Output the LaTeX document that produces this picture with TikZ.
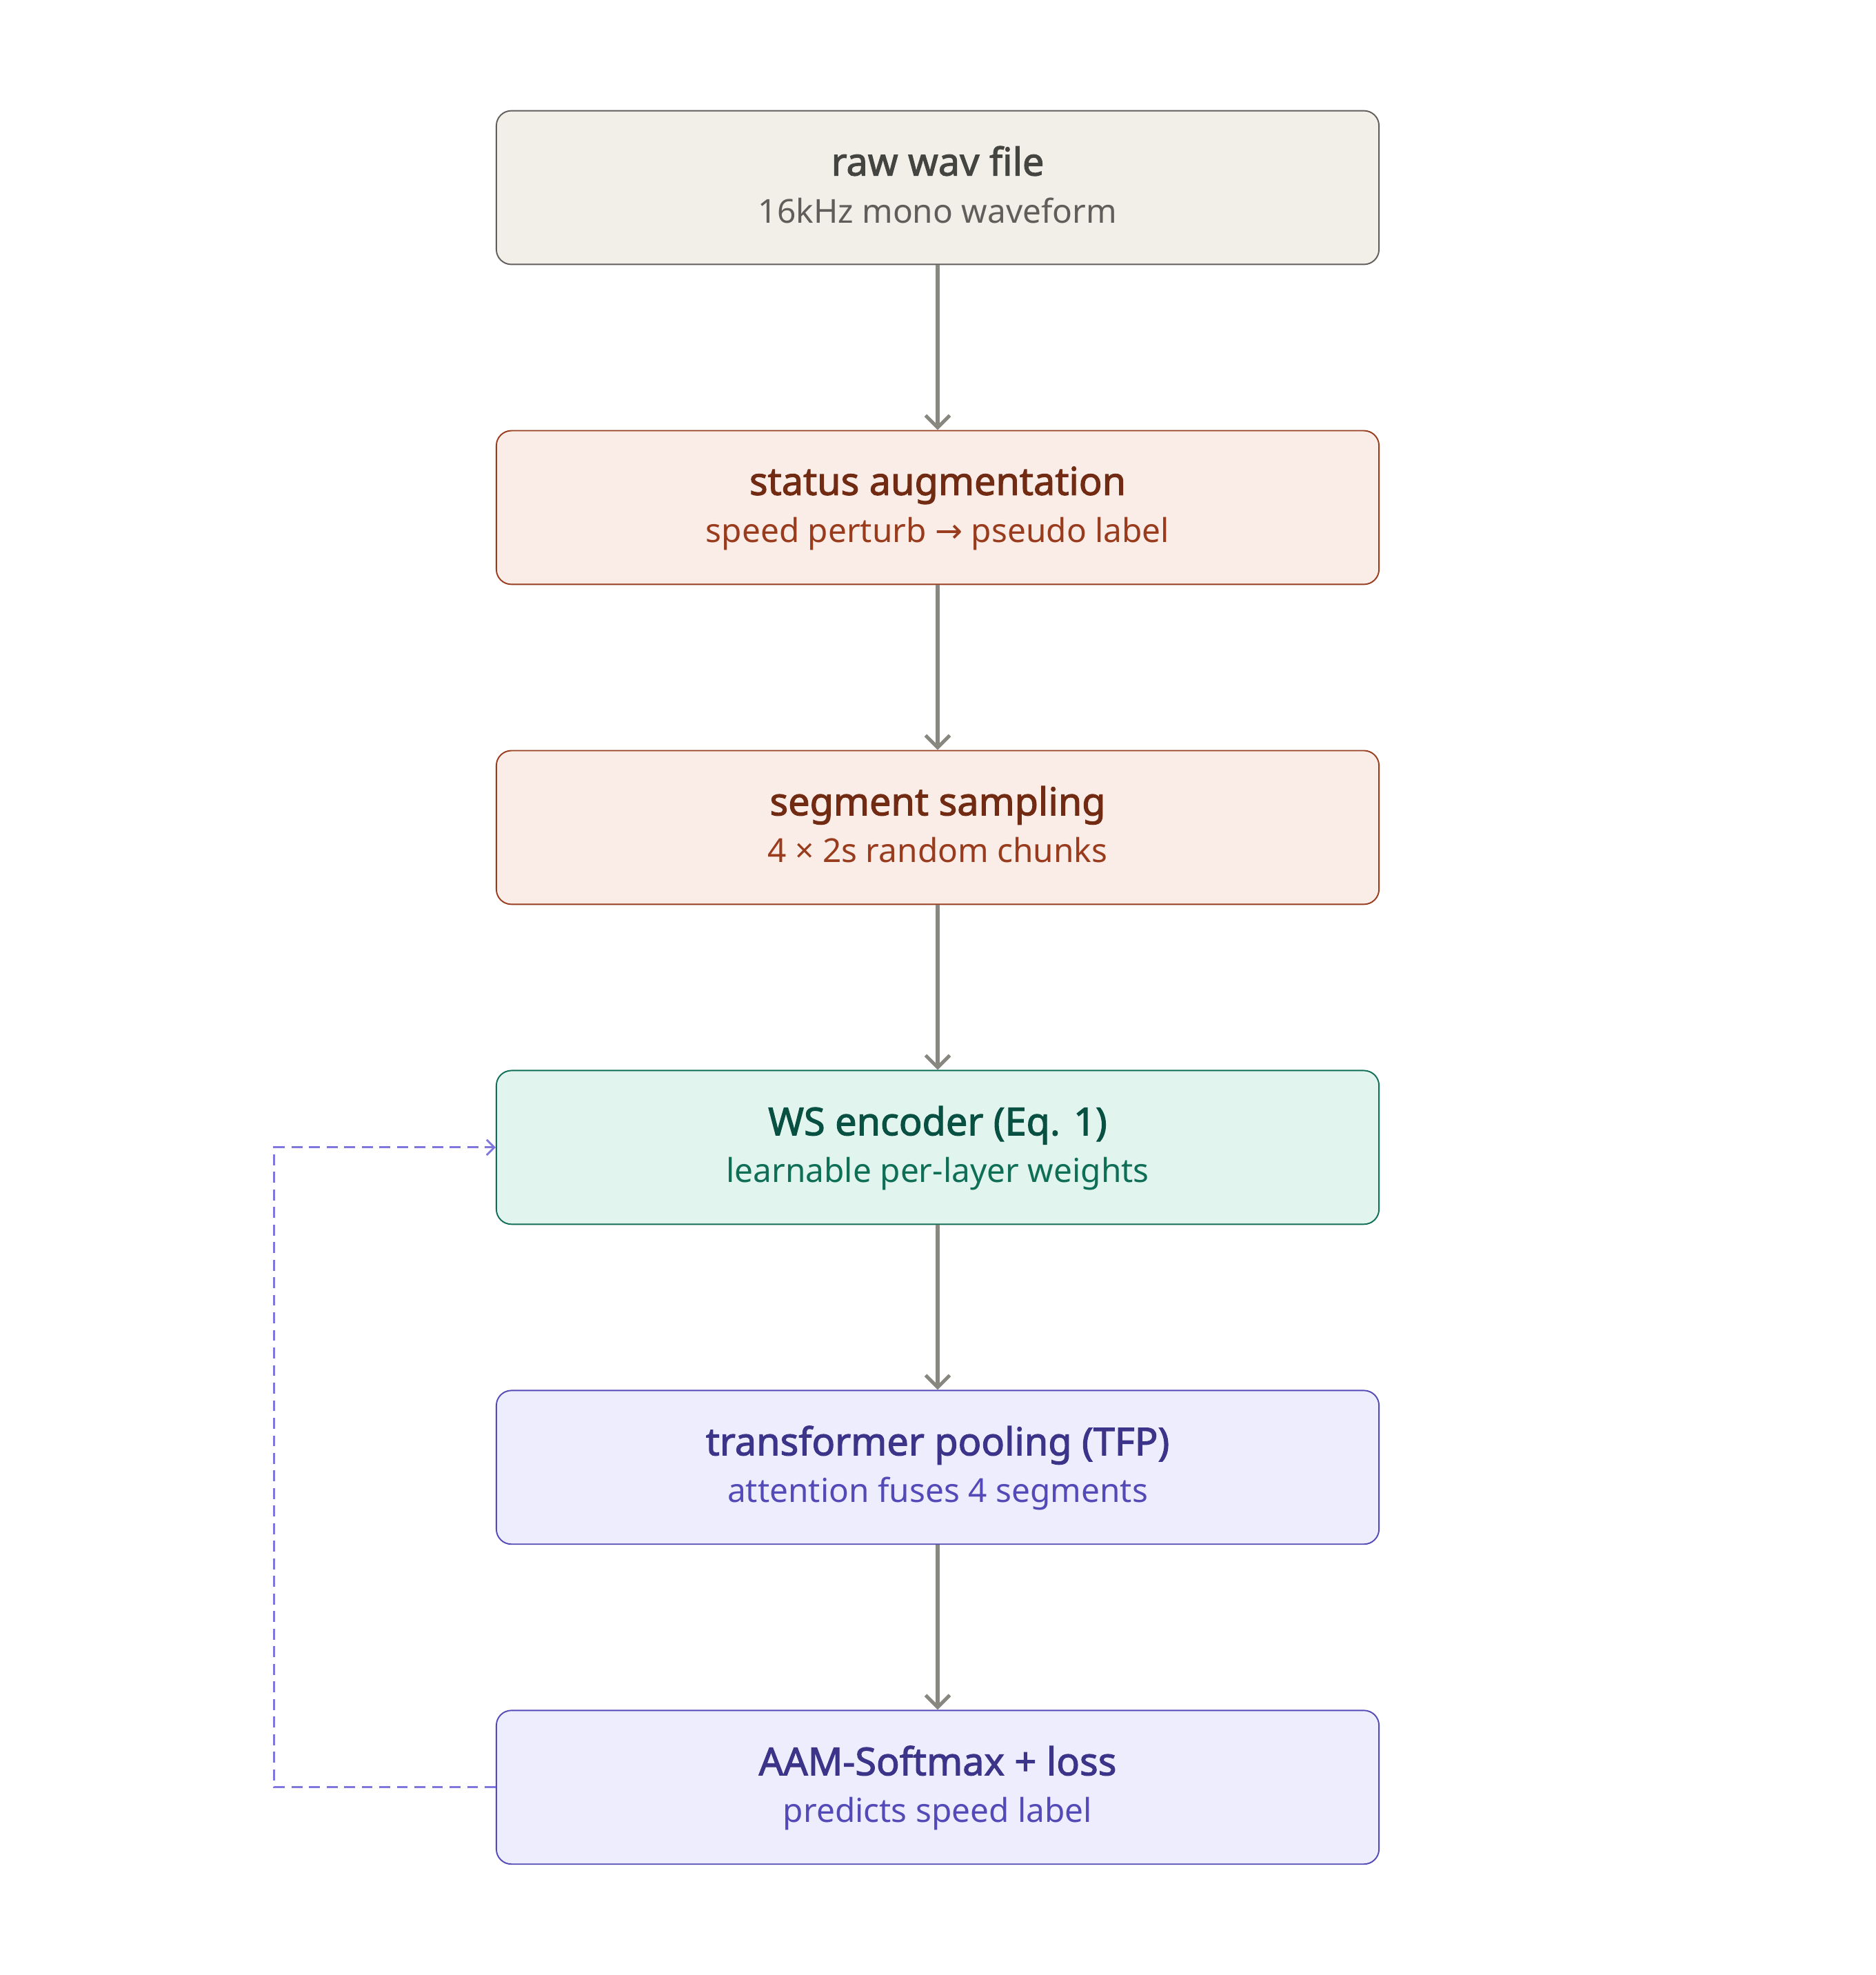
\documentclass[tikz,border=0pt]{standalone}
\usepackage{fontspec}
\setmainfont{Noto Sans}
\IfFontExistsTF{Noto Sans SemiBold}
    {\newfontfamily\titlefont{Noto Sans SemiBold}}
    {\IfFontExistsTF{Noto Sans Bold}
        {\newfontfamily\titlefont{Noto Sans Bold}}
        {\newfontfamily\titlefont{Noto Sans}[FakeBold=2]}}
\newfontfamily\arrowfont{DejaVu Sans}
\usetikzlibrary{positioning,arrows.meta}

\definecolor{rawfill}{HTML}{F1EFE8}
\definecolor{rawline}{HTML}{5F5E5A}
\definecolor{rawtitle}{HTML}{444441}
\definecolor{augfill}{HTML}{FAECE7}
\definecolor{augline}{HTML}{993C1D}
\definecolor{augtitle}{HTML}{712B13}
\definecolor{encfill}{HTML}{E1F5EE}
\definecolor{encline}{HTML}{0F6E56}
\definecolor{enctitle}{HTML}{085041}
\definecolor{poolfill}{HTML}{EEEDFE}
\definecolor{poolline}{HTML}{534AB7}
\definecolor{pooltitle}{HTML}{3C3489}
\definecolor{arrowgray}{HTML}{888780}
\definecolor{loopline}{HTML}{7F77DD}

% title line + sub line inside one box
\newcommand{\stagetext}[4]{{\color{#1}\titlefont\fontsize{17.5}{20}\selectfont #3}\\[1.5pt]{\color{#2}#4}}

\begin{document}
\begin{tikzpicture}[
    stage/.style={draw, rounded corners=0.24cm, minimum width=14.12cm,
        minimum height=2.458cm, align=center, line width=0.6pt,
        font=\fontsize{15}{20}\selectfont, text depth=0.1cm},
    rawbox/.style={stage, draw=rawline, fill=rawfill},
    augbox/.style={stage, draw=augline, fill=augfill},
    encbox/.style={stage, draw=encline, fill=encfill},
    poolbox/.style={stage, draw=poolline, fill=poolfill},
    flow/.style={->, draw=arrowgray, line width=1.6pt,
        >={Straight Barb[length=5.5pt,width=11pt]}},
    feedback/.style={->, draw=loopline, line width=0.9pt,
        dash pattern=on 5pt off 3pt,
        >={Straight Barb[length=3.5pt,width=7pt]}},
    node distance=2.638cm
]
    \useasboundingbox (0,0) rectangle (30,-31.588);

    % --- pipeline boxes ---
    \node[rawbox] (raw) at (15.0,-3.0)
        {\stagetext{rawtitle}{rawline}{raw wav file}{16kHz mono waveform}};
    \node[augbox, below=of raw] (aug)
        {\stagetext{augtitle}{augline}{status augmentation}{speed perturb {\arrowfont →} pseudo label}};
    \node[augbox, below=of aug] (seg)
        {\stagetext{augtitle}{augline}{segment sampling}{4 × 2s random chunks}};
    \node[encbox, below=of seg] (ws)
        {\stagetext{enctitle}{encline}{WS encoder (Eq. 1)}{learnable per-layer weights}};
    \node[poolbox, below=of ws] (tfp)
        {\stagetext{pooltitle}{poolline}{transformer pooling (TFP)}{attention fuses 4 segments}};
    \node[poolbox, below=of tfp] (aam)
        {\stagetext{pooltitle}{poolline}{AAM-Softmax + loss}{predicts speed label}};

    % --- arrows ---
    \draw[flow] (raw) -- (aug);
    \draw[flow] (aug) -- (seg);
    \draw[flow] (seg) -- (ws);
    \draw[flow] (ws) -- (tfp);
    \draw[flow] (tfp) -- (aam);

    % --- feedback loop ---
    \draw[feedback] (aam.west) -- ++(-3.545,0) |- (ws.west);
\end{tikzpicture}
\end{document}
